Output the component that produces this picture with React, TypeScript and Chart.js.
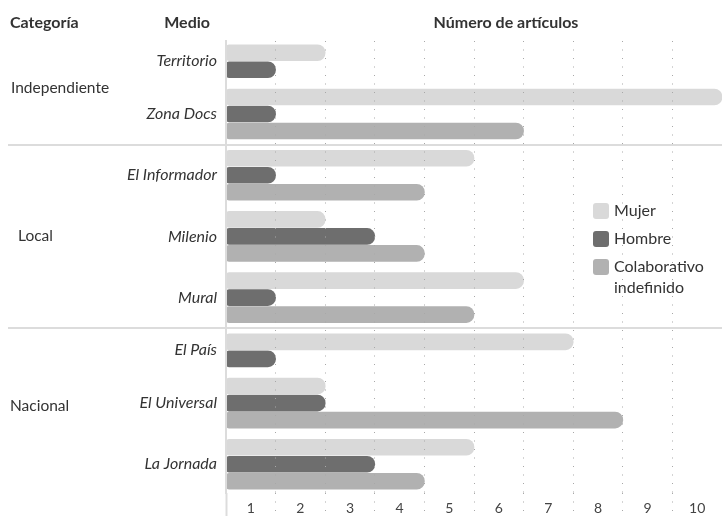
import React, { useEffect, useRef } from 'react';
import { Chart, registerables } from 'chart.js';

Chart.register(...registerables);

// ---------- data ----------
const categories = ['Independiente', 'Local', 'Nacional'];
const medios = ['Territorio', 'Zona Docs', 'El Informador', 'Milenio', 'Mural', 'El País', 'El Universal', 'La Jornada'];
const medioCategory = [0, 0, 1, 1, 1, 2, 2, 2];
const mujer = [2, 10, 5, 2, 6, 7, 2, 5];
const hombre = [1, 1, 1, 3, 1, 1, 2, 3];
const colaborativo: (number | null)[] = [null, 6, 4, 4, 5, null, 8, 4];
const seriesNames: (string | string[])[] = ['Mujer', 'Hombre', ['Colaborativo', 'indefinido']];
const xTickLabels = ['1', '2', '3', '4', '5', '6', '7', '8', '9', '10'];
const headerCategoria = 'Categoría';
const headerMedio = 'Medio';
const headerValores = 'Número de artículos';

// ---------- style ----------
const FONT = 'Lato, "Open Sans", sans-serif';
const TEXT = '#333333';
const colors = ['#d9d9d9', '#6e6e6e', '#b1b1b1'];
const LINE = '#dcdcdc';
const DOT = '#a8a8a8';
const GAP = 0.62; // gap between groups in bar-slot units
const catLabelX = [11, 18, 10];

// group layout derived from data (bar counts per medio)
const seriesValues = [mujer, hombre, colaborativo];
const barCounts = medios.map((_, i) => seriesValues.filter((s) => s[i] != null).length);
const centers: number[] = [];
const bounds: [number, number][] = [];
{
  let cursor = 0;
  barCounts.forEach((n) => {
    centers.push(cursor + n / 2);
    bounds.push([cursor, cursor + n]);
    cursor += n + GAP;
  });
}
const yEnd = bounds[bounds.length - 1][1];

const decorPlugin = {
  id: 'decor',
  afterDraw(chart: any) {
    const { ctx, scales } = chart;
    const y = scales.y;
    ctx.save();
    // separators between categories
    ctx.strokeStyle = LINE;
    ctx.lineWidth = 2;
    for (let i = 0; i < medios.length - 1; i++) {
      if (medioCategory[i] !== medioCategory[i + 1]) {
        const py = Math.round(y.getPixelForValue((bounds[i][1] + bounds[i + 1][0]) / 2));
        ctx.beginPath();
        ctx.moveTo(8, py);
        ctx.lineTo(chart.width, py);
        ctx.stroke();
      }
    }
    // category labels
    ctx.fillStyle = TEXT;
    ctx.font = `15.5px ${FONT}`;
    ctx.textAlign = 'left';
    ctx.textBaseline = 'middle';
    categories.forEach((c, ci) => {
      const cs = centers.filter((_, i) => medioCategory[i] === ci);
      const mid = cs.reduce((a, b) => a + b, 0) / cs.length;
      ctx.fillText(c, catLabelX[ci], y.getPixelForValue(mid));
    });
    // headers
    ctx.font = `bold 16px ${FONT}`;
    ctx.textAlign = 'left';
    ctx.fillText(headerCategoria, 10, 23);
    ctx.textAlign = 'right';
    ctx.fillText(headerMedio, 210, 23);
    ctx.textAlign = 'center';
    ctx.fillText(headerValores, 506, 23);
    // legend
    ctx.font = `16px ${FONT}`;
    ctx.textAlign = 'left';
    const lx = 593;
    let ly = 203;
    chart.data.datasets.forEach((ds: any) => {
      ctx.fillStyle = ds.backgroundColor;
      ctx.beginPath();
      (ctx as any).roundRect(lx, ly, 16, 16, 3);
      ctx.fill();
      ctx.fillStyle = TEXT;
      const lines = Array.isArray(ds.label) ? ds.label : [ds.label];
      lines.forEach((t: string, k: number) => ctx.fillText(t, lx + 21, ly + 8 + k * 21));
      ly += 28;
    });
    ctx.restore();
  },
};

export default function App() {
  const ref = useRef<HTMLCanvasElement | null>(null);
  useEffect(() => {
    if (!ref.current) return;
    const datasets = seriesValues.map((vals, si) => ({
      label: seriesNames[si] as any,
      data: vals.map((v, i) => ({ x: v, y: centers[i] })),
      backgroundColor: colors[si],
      borderWidth: 0,
      borderSkipped: false as any,
      borderRadius: { topLeft: 3, bottomLeft: 3, topRight: 8.5, bottomRight: 8.5 },
      barThickness: 17,
      maxBarThickness: 16,
    }));
    const chart = new Chart(ref.current, {
      type: 'bar',
      data: { datasets },
      plugins: [decorPlugin],
      options: {
        indexAxis: 'y',
        responsive: false,
        animation: false,
        skipNull: true,
        layout: { padding: { top: 41, left: 0, right: 0, bottom: 0 } },
        plugins: { legend: { display: false }, tooltip: { enabled: false }, title: { display: false } },
        scales: {
          x: {
            type: 'linear',
            position: 'bottom',
            min: 0,
            max: xTickLabels.length,
            offset: false,
            afterBuildTicks: (scale: any) => {
              const t = [];
              for (let k = 0; k <= xTickLabels.length * 2; k++) t.push({ value: k / 2 });
              scale.ticks = t;
            },
            afterFit: (scale: any) => {
              scale.height = 23;
            },
            ticks: {
              autoSkip: false,
              maxRotation: 0,
              padding: -17,
              color: '#444444',
              font: { family: FONT, size: 14 },
              callback: (v: any) => (Number.isInteger(v) ? '' : xTickLabels[Math.floor(v)]),
            },
            grid: {
              z: 1,
              lineWidth: 1,
              color: (c: any) => {
                const v = c.tick && c.tick.value;
                return Number.isInteger(v) && v > 0 && v < xTickLabels.length ? DOT : 'rgba(0,0,0,0)';
              },
              tickLength: 24,
              tickWidth: (c: any) => (c.tick && c.tick.value === 0 ? 2 : 1),
              tickColor: (c: any) => {
                const v = c.tick && c.tick.value;
                if (v === 0) return LINE;
                return Number.isInteger(v) && v < xTickLabels.length ? DOT : 'rgba(0,0,0,0)';
              },
              tickBorderDash: (c: any) => (c.tick && c.tick.value === 0 ? [] : [1, 7.5]),
            },
            border: { display: false, dash: [1, 7.5] },
          },
          y: {
            type: 'linear',
            reverse: true,
            offset: false,
            min: -0.2,
            max: yEnd + 0.2,
            afterBuildTicks: (scale: any) => {
              scale.ticks = centers.map((v) => ({ value: v }));
            },
            afterFit: (scale: any) => {
              scale.width = 226;
            },
            ticks: {
              autoSkip: false,
              padding: 1,
              color: TEXT,
              font: { family: FONT, size: 16, style: 'italic' },
              callback: (_v: any, i: number) => medios[i],
            },
            grid: { display: false },
            border: { display: true, color: LINE, width: 2, z: 1 },
          },
        },
      } as any,
    });
    return () => chart.destroy();
  }, []);
  return (
    <div style={{ position: 'absolute', left: 0, top: 0, width: 722, height: 516, background: '#fff' }}>
      <canvas ref={ref} width={722} height={516} style={{ display: 'block' }} />
    </div>
  );
}
